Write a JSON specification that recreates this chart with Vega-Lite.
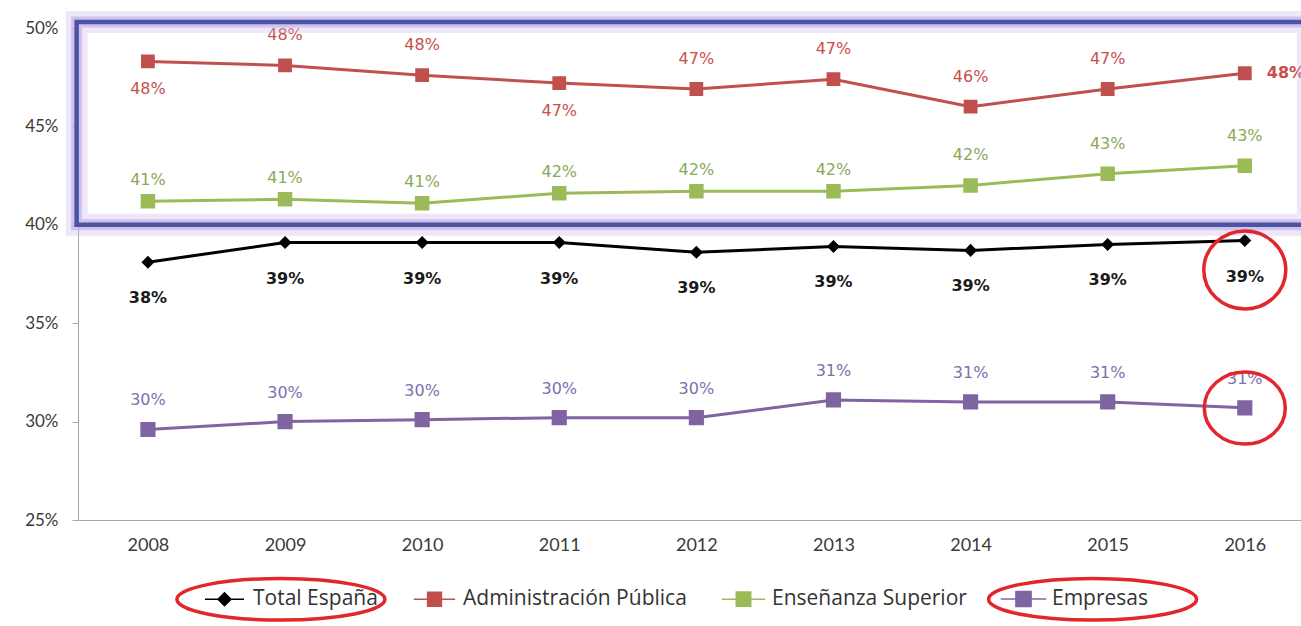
{
  "$schema": "https://vega.github.io/schema/vega-lite/v6.json",
  "autosize": "none",
  "width": 1223,
  "height": 492,
  "padding": {"left": 78, "top": 28, "right": 0, "bottom": 106},
  "background": "white",
  "config": {
    "view": {"stroke": null},
    "axis": {"labelFont": "Lato", "labelColor": "#3a3a3a", "domainColor": "#a6a6a6", "tickColor": "#a6a6a6", "grid": false, "title": null},
    "legend": {
      "direction": "horizontal", "title": null,
      "labelFont": "Open Sans", "labelFontSize": 21, "labelColor": "#333333", "labelLimit": 400,
      "symbolOffset": 20, "labelOffset": 18, "columnPadding": 26
    }
  },
  "datasets": {
    "main": [
      {"series": "Total España", "year": 2008, "value": 0.381},
      {"series": "Total España", "year": 2009, "value": 0.391},
      {"series": "Total España", "year": 2010, "value": 0.391},
      {"series": "Total España", "year": 2011, "value": 0.391},
      {"series": "Total España", "year": 2012, "value": 0.386},
      {"series": "Total España", "year": 2013, "value": 0.389},
      {"series": "Total España", "year": 2014, "value": 0.387},
      {"series": "Total España", "year": 2015, "value": 0.390},
      {"series": "Total España", "year": 2016, "value": 0.392},
      {"series": "Administración Pública", "year": 2008, "value": 0.483},
      {"series": "Administración Pública", "year": 2009, "value": 0.481},
      {"series": "Administración Pública", "year": 2010, "value": 0.476},
      {"series": "Administración Pública", "year": 2011, "value": 0.472},
      {"series": "Administración Pública", "year": 2012, "value": 0.469},
      {"series": "Administración Pública", "year": 2013, "value": 0.474},
      {"series": "Administración Pública", "year": 2014, "value": 0.460},
      {"series": "Administración Pública", "year": 2015, "value": 0.469},
      {"series": "Administración Pública", "year": 2016, "value": 0.477},
      {"series": "Enseñanza Superior", "year": 2008, "value": 0.412},
      {"series": "Enseñanza Superior", "year": 2009, "value": 0.413},
      {"series": "Enseñanza Superior", "year": 2010, "value": 0.411},
      {"series": "Enseñanza Superior", "year": 2011, "value": 0.416},
      {"series": "Enseñanza Superior", "year": 2012, "value": 0.417},
      {"series": "Enseñanza Superior", "year": 2013, "value": 0.417},
      {"series": "Enseñanza Superior", "year": 2014, "value": 0.420},
      {"series": "Enseñanza Superior", "year": 2015, "value": 0.426},
      {"series": "Enseñanza Superior", "year": 2016, "value": 0.430},
      {"series": "Empresas", "year": 2008, "value": 0.296},
      {"series": "Empresas", "year": 2009, "value": 0.300},
      {"series": "Empresas", "year": 2010, "value": 0.301},
      {"series": "Empresas", "year": 2011, "value": 0.302},
      {"series": "Empresas", "year": 2012, "value": 0.302},
      {"series": "Empresas", "year": 2013, "value": 0.311},
      {"series": "Empresas", "year": 2014, "value": 0.310},
      {"series": "Empresas", "year": 2015, "value": 0.310},
      {"series": "Empresas", "year": 2016, "value": 0.307}
    ],
    "box": [{"x": 2007.48, "x2": 2016.46, "y": 0.400, "y2": 0.503}],
    "circles": [
      {"target": "Total España", "year": 2016, "value": 0.377},
      {"target": "Empresas", "year": 2016, "value": 0.3069}
    ],
    "legendmarks": [
      {"target": "Total España", "year": 2008.97, "value": 0.2097},
      {"target": "Empresas", "year": 2014.89, "value": 0.2097}
    ]
  },
  "layer": [
    {
      "data": {"name": "main"},
      "mark": {"type": "line", "strokeWidth": 3},
      "encoding": {
        "x": {"field": "year", "type": "quantitative", "scale": {"domain": [2007.49, 2016.41], "nice": false, "zero": false},
              "axis": {"values": [2008, 2009, 2010, 2011, 2012, 2013, 2014, 2015, 2016], "format": "d", "ticks": false, "labelFontSize": 18, "labelPadding": 16, "labelFlush": false}},
        "y": {"field": "value", "type": "quantitative", "scale": {"domain": [0.25, 0.5], "nice": false, "zero": false},
              "axis": {"values": [0.25, 0.3, 0.35, 0.4, 0.45, 0.5], "format": ".0%", "tickSize": 6, "labelFontSize": 17, "labelPadding": 14}},
        "color": {"field": "series", "type": "nominal",
                  "scale": {"domain": ["Total España", "Administración Pública", "Enseñanza Superior", "Empresas"], "range": ["#000000", "#c0504d", "#9bbb59", "#8064a2"]}},
        "detail": {"field": "series"}
      }
    },
    {
      "data": {"name": "main"},
      "mark": {"type": "point", "filled": true, "opacity": 1, "strokeWidth": 0},
      "encoding": {
        "x": {"field": "year", "type": "quantitative"},
        "y": {"field": "value", "type": "quantitative"},
        "color": {"field": "series", "type": "nominal",
                  "legend": {"orient": "none", "direction": "horizontal", "legendX": 116, "legendY": 560,
                             "encode": {"symbols": {"strokeWidth": {"value": 3}, "opacity": {"value": 1}}}}},
        "stroke": {"field": "series", "type": "nominal",
                   "scale": {"domain": ["Total España", "Administración Pública", "Enseñanza Superior", "Empresas"], "range": ["#000000", "#c0504d", "#9bbb59", "#8064a2"]}},
        "shape": {"field": "series", "type": "nominal",
                  "scale": {"domain": ["Total España", "Administración Pública", "Enseñanza Superior", "Empresas"],
                            "range": ["M-3,0H3M0,-1L1,0L0,1L-1,0Z", "M-3,0H3M-1,-1H1V1H-1Z", "M-3,0H3M-1,-1H1V1H-1Z", "M-3,0H3M-1,-1H1V1H-1Z"]}},
        "size": {"field": "series", "type": "nominal",
                 "scale": {"domain": ["Total España", "Administración Pública", "Enseñanza Superior", "Empresas"], "range": [170, 230, 220, 170]},
                 "legend": null}
      }
    },
    {
      "data": {"name": "main"},
      "transform": [{"filter": "datum.series === 'Total España'"}],
      "mark": {"type": "text", "font": "DejaVu Sans", "fontSize": 16, "fontWeight": "bold", "dy": 36, "color": "#1a1a1a"},
      "encoding": {
        "x": {"field": "year", "type": "quantitative"},
        "y": {"field": "value", "type": "quantitative"},
        "text": {"field": "value", "format": ".0%"}
      }
    },
    {
      "data": {"name": "main"},
      "transform": [{"filter": "datum.series === 'Administración Pública' && (datum.year === 2008 || datum.year === 2011)"}],
      "mark": {"type": "text", "font": "DejaVu Sans", "fontSize": 16, "dy": 28, "color": "#c8504c"},
      "encoding": {
        "x": {"field": "year", "type": "quantitative"},
        "y": {"field": "value", "type": "quantitative"},
        "text": {"field": "value", "format": ".0%"}
      }
    },
    {
      "data": {"name": "main"},
      "transform": [{"filter": "datum.series === 'Administración Pública' && datum.year !== 2008 && datum.year !== 2011 && datum.year !== 2016"}],
      "mark": {"type": "text", "font": "DejaVu Sans", "fontSize": 16, "dy": -30, "color": "#c8504c"},
      "encoding": {
        "x": {"field": "year", "type": "quantitative"},
        "y": {"field": "value", "type": "quantitative"},
        "text": {"field": "value", "format": ".0%"}
      }
    },
    {
      "data": {"name": "main"},
      "transform": [{"filter": "datum.series === 'Administración Pública' && datum.year === 2016"}],
      "mark": {"type": "text", "font": "DejaVu Sans", "fontSize": 16, "fontWeight": "bold", "align": "left", "dx": 22, "color": "#c8504c"},
      "encoding": {
        "x": {"field": "year", "type": "quantitative"},
        "y": {"field": "value", "type": "quantitative"},
        "text": {"field": "value", "format": ".0%"}
      }
    },
    {
      "data": {"name": "main"},
      "transform": [{"filter": "datum.series === 'Enseñanza Superior' && datum.year <= 2013"}],
      "mark": {"type": "text", "font": "DejaVu Sans", "fontSize": 16, "dy": -21, "color": "#8aa958"},
      "encoding": {
        "x": {"field": "year", "type": "quantitative"},
        "y": {"field": "value", "type": "quantitative"},
        "text": {"field": "value", "format": ".0%"}
      }
    },
    {
      "data": {"name": "main"},
      "transform": [{"filter": "datum.series === 'Enseñanza Superior' && datum.year >= 2014"}],
      "mark": {"type": "text", "font": "DejaVu Sans", "fontSize": 16, "dy": -30, "color": "#8aa958"},
      "encoding": {
        "x": {"field": "year", "type": "quantitative"},
        "y": {"field": "value", "type": "quantitative"},
        "text": {"field": "value", "format": ".0%"}
      }
    },
    {
      "data": {"name": "main"},
      "transform": [{"filter": "datum.series === 'Empresas'"}],
      "mark": {"type": "text", "font": "DejaVu Sans", "fontSize": 16, "dy": -29, "color": "#7e70ad"},
      "encoding": {
        "x": {"field": "year", "type": "quantitative"},
        "y": {"field": "value", "type": "quantitative"},
        "text": {"field": "value", "format": ".0%"}
      }
    },
    {
      "data": {"name": "box"},
      "mark": {"type": "rect", "fill": "transparent", "stroke": "#cdb9ef", "strokeWidth": 22, "strokeOpacity": 0.35},
      "encoding": {
        "x": {"field": "x", "type": "quantitative"},
        "x2": {"field": "x2"},
        "y": {"field": "y", "type": "quantitative"},
        "y2": {"field": "y2"}
      }
    },
    {
      "data": {"name": "box"},
      "mark": {"type": "rect", "fill": "transparent", "stroke": "#b49ee2", "strokeWidth": 11, "strokeOpacity": 0.5},
      "encoding": {
        "x": {"field": "x", "type": "quantitative"},
        "x2": {"field": "x2"},
        "y": {"field": "y", "type": "quantitative"},
        "y2": {"field": "y2"}
      }
    },
    {
      "data": {"name": "box"},
      "mark": {"type": "rect", "fill": "transparent", "stroke": "#4a54a4", "strokeWidth": 4.5},
      "encoding": {
        "x": {"field": "x", "type": "quantitative"},
        "x2": {"field": "x2"},
        "y": {"field": "y", "type": "quantitative"},
        "y2": {"field": "y2"}
      }
    },
    {
      "data": {"name": "circles"},
      "transform": [{"filter": "datum.target === 'Total España'"}],
      "mark": {"type": "point", "filled": false, "stroke": "#e3262b", "strokeWidth": 3.5, "opacity": 1, "size": 6724,
               "shape": "M-1,0A1,0.95,0,1,1,1,0A1,0.95,0,1,1,-1,0Z"},
      "encoding": {
        "x": {"field": "year", "type": "quantitative"},
        "y": {"field": "value", "type": "quantitative"}
      }
    },
    {
      "data": {"name": "circles"},
      "transform": [{"filter": "datum.target === 'Empresas'"}],
      "mark": {"type": "point", "filled": false, "stroke": "#e3262b", "strokeWidth": 3.5, "opacity": 1, "size": 6561,
               "shape": "M-1,0A1,0.89,0,1,1,1,0A1,0.89,0,1,1,-1,0Z"},
      "encoding": {
        "x": {"field": "year", "type": "quantitative"},
        "y": {"field": "value", "type": "quantitative"}
      }
    },
    {
      "data": {"name": "legendmarks"},
      "mark": {"type": "point", "filled": false, "stroke": "#e3262b", "strokeWidth": 3.5, "opacity": 1, "size": 43264,
               "shape": "M-1,0A1,0.2,0,1,1,1,0A1,0.2,0,1,1,-1,0Z"},
      "encoding": {
        "x": {"field": "year", "type": "quantitative"},
        "y": {"field": "value", "type": "quantitative"}
      }
    }
  ]
}
